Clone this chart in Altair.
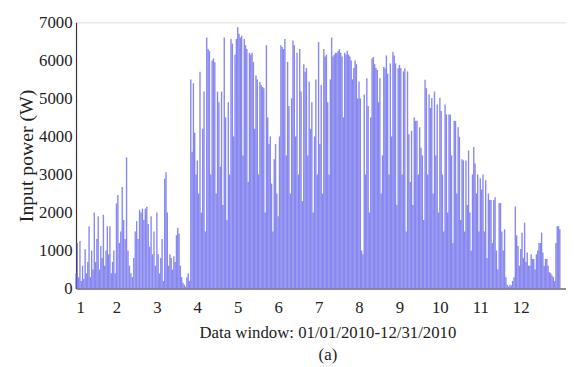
import altair as alt
import pandas as pd

# Daily peak input power (W), one list per month
jan = [400, 1200, 300, 1250, 200, 600, 250, 1030, 400, 700, 1640, 300, 1000, 500, 2000, 700,
       1300, 1900, 500, 1120, 800, 1940, 600, 1000, 1640, 900, 1640, 400, 700, 1000, 400]
feb = [2240, 2460, 1200, 1500, 2670, 1800, 1300, 3450, 1000, 600, 400, 300, 800, 1500, 1770, 1300,
       2070, 2000, 2100, 1800, 2100, 2150, 1700, 1100, 1900, 900, 1500, 600]
mar = [2000, 900, 400, 800, 1300, 200, 2890, 3060, 2000, 600, 900, 800, 500, 850, 700, 1400,
       1600, 1450, 600, 300, 150, 100, 50, 300, 400, 200, 5500, 3600, 5400, 4100, 3000]
apr = [3370, 2500, 5700, 2000, 4200, 5180, 1500, 6600, 6300, 6250, 3000, 6000, 6050, 5950, 2500,
       5180, 4900, 3200, 5180, 2200, 6600, 4500, 1800, 4900, 3000, 6560, 6440, 4000, 6150, 6560]
may = [6870, 6700, 6600, 6650, 3500, 6560, 6400, 6300, 2800, 6200, 6150, 6200, 5960, 4200, 5600,
       5500, 3000, 5440, 5350, 5300, 5270, 2000, 6400, 4500, 3800, 4000, 2760, 1500, 3400, 3800, 2500]
jun = [1900, 4000, 6400, 6350, 6300, 6560, 3500, 5960, 4800, 2500, 5000, 6520, 6400, 4000, 6200,
       3000, 6300, 5180, 2300, 5900, 5700, 5800, 3500, 5440, 4200, 4900, 2000, 4000, 5500, 3000]
jul = [6480, 3800, 5350, 2500, 6300, 6100, 6150, 4900, 3000, 5500, 6600, 6100, 6150, 6200, 6200,
       6250, 6300, 6200, 6100, 4500, 6200, 6150, 6250, 6150, 6100, 6000, 5500, 5800, 6000, 5900, 5000]
aug = [5440, 5000, 1000, 900, 5100, 3000, 5530, 4800, 2000, 4500, 6050, 6090, 5900, 5800, 5750,
       4900, 5530, 2500, 3500, 5830, 5790, 6130, 5650, 3000, 5920, 4000, 6220, 6130, 5920, 2200, 5790]
sep = [5880, 5800, 3000, 5710, 5790, 1500, 5710, 4060, 2800, 4150, 2200, 4500, 4410, 4410, 3000,
       4240, 3700, 3500, 1800, 5490, 5270, 3000, 5100, 4750, 5010, 2500, 5180, 3500, 4840, 2000]
oct_ = [5010, 4670, 3000, 1500, 4840, 4580, 2000, 4580, 4580, 3500, 1200, 4410, 4410, 2500, 4240,
        3990, 1800, 3400, 3370, 1500, 3370, 2200, 3630, 2000, 1000, 3000, 3720, 3290, 2500, 3000, 1500]
nov = [2900, 2600, 3000, 1500, 2850, 800, 2500, 2330, 2330, 1200, 2330, 2400, 1000, 500, 2240,
       2250, 1500, 1000, 1560, 300, 100, 50, 100, 80, 200, 300, 2160, 1400, 1120, 600]
dec = [1040, 1470, 800, 1730, 700, 950, 600, 600, 900, 780, 780, 500, 900, 1000, 1200, 1200,
       1470, 950, 600, 780, 780, 600, 430, 400, 350, 300, 200, 1200, 1640, 1640, 1560]

months = [jan, feb, mar, apr, may, jun, jul, aug, sep, oct_, nov, dec]
month_ticks = [1, 2, 3, 4, 5, 6, 7, 8, 9, 10, 11, 12]
power_ticks = [0, 1000, 2000, 3000, 4000, 5000, 6000, 7000]

rows = []
for m, vals in zip(month_ticks, months):
    n = len(vals)
    for d, v in enumerate(vals):
        rows.append({"t": m + d / n, "p": v})
df = pd.DataFrame(rows)

FONT = "Liberation Serif"
W, H = 497, 270
X0, X1 = 1, 13.12
Y0, Y1 = 0, 7000

xscale = alt.Scale(domain=[X0, X1], nice=False)
yscale = alt.Scale(domain=[Y0, Y1], nice=False)

x_axis = alt.Axis(values=month_ticks, format="d",
                  title=["Data window: 01/01/2010-12/31/2010", "(a)"],
                  titleLineHeight=22, titlePadding=10, labelPadding=11, ticks=False,
                  grid=False, domainColor="#333333", domainWidth=1.2, labelOverlap=False,
                  labelFont=FONT, labelFontSize=17, labelColor="#222222",
                  titleFont=FONT, titleFontSize=17, titleFontWeight="normal", titleColor="#222222",
                  titleX=255)
y_axis = alt.Axis(values=power_ticks, format="d", title="Input power (W)", titlePadding=2,
                  labelPadding=4, ticks=False, grid=False, labelOverlap=False,
                  domainColor="#333333", domainWidth=1.2,
                  labelFont=FONT, labelFontSize=17, labelColor="#222222",
                  titleFont=FONT, titleFontSize=20, titleFontWeight="normal", titleColor="#222222")

chart = alt.Chart(df).mark_rule(color="#6a6aec", strokeWidth=1.4, opacity=0.8).encode(
    x=alt.X("t:Q", scale=xscale, axis=x_axis),
    y=alt.Y("p:Q", scale=yscale, axis=y_axis),
    y2=alt.datum(Y0),
).properties(
    width=W, height=H,
    autosize=alt.AutoSizeParams(type="none"),
    padding={"left": 69, "top": 12, "right": 0, "bottom": 75},
).configure_view(stroke="#777777", strokeWidth=1.2).configure(background="white")

chart.save("out.html", embed_options={"renderer": "svg", "actions": False})
